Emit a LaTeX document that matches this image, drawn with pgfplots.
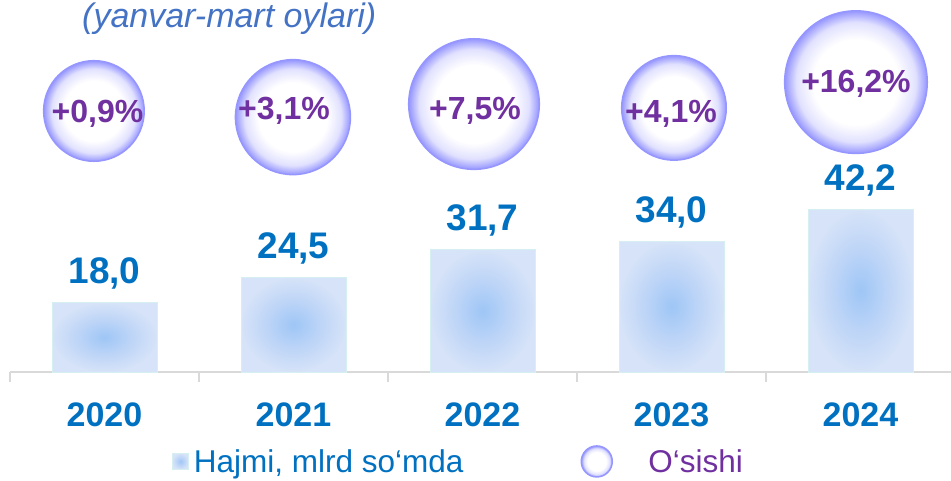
\documentclass[border=0pt]{standalone}
\usepackage{fontspec}
\setmainfont{Liberation Sans}
\usepackage{pgfplots}
\pgfplotsset{compat=1.18}
\definecolor{txtblue}{RGB}{0,112,192}
\definecolor{txtpurple}{RGB}{112,48,160}
\definecolor{ttlblue}{RGB}{68,114,196}
\definecolor{axgray}{RGB}{217,217,217}
\definecolor{barborder}{RGB}{214,240,242}
\definecolor{barin}{RGB}{158,198,246}
\definecolor{barmid}{RGB}{190,213,247}
\definecolor{barout}{RGB}{214,227,248}
\definecolor{bubedge}{RGB}{150,150,255}
\definecolor{bubmid}{RGB}{225,225,255}
\pgfdeclareradialshading{barshade}{\pgfpointorigin}{color(0bp)=(barin); color(13bp)=(barmid); color(25bp)=(barout); color(50bp)=(barout)}
\pgfdeclareradialshading{bubble}{\pgfpointorigin}{color(0bp)=(white); color(15bp)=(white); color(21bp)=(bubmid); color(25bp)=(bubedge); color(50bp)=(bubedge)}
\pgfdeclareplotmark{bubble}{%
  \pgfpathcircle{\pgfpointorigin}{\pgfplotmarksize}%
  \pgfshadepath{bubble}{0}%
  \pgfusepath{discard}%
  \pgfpathcircle{\pgfpointorigin}{\pgfplotmarksize}%
  \pgfusepathqstroke
}
\pgfplotsset{
  mybar/.style={ybar, bar width=105pt, bar shift=0pt, shade, shading=barshade, draw=barborder, line width=1pt},
  mybub/.style={only marks, mark=bubble, mark size=#1, mark options={draw=bubedge, line width=1.5pt}},
}
\begin{document}
\begin{tikzpicture}
\useasboundingbox (0,0) rectangle (951pt,480pt);
\begin{axis}[
  at={(10pt,108pt)}, anchor=south west,
  x=189pt, y=3.85pt, xmin=-0.5, xmax=4.5, ymin=0, ymax=96,
  clip=false,
  axis x line*=bottom, axis y line=none,
  x axis line style={draw=axgray, line width=1.5pt, -},
  xtick={0,1,2,3,4}, xticklabels={2020,2021,2022,2023,2024},
  major tick length=0pt,
  minor xtick={-0.5,0.5,1.5,2.5,3.5,4.5},
  minor tick length=10pt, tick align=outside,
  minor tick style={draw=axgray, line width=1.5pt},
  xticklabel style={font=\fontsize{34}{36}\selectfont\bfseries, text=txtblue, anchor=base, yshift=-54pt},
  /pgf/number format/assume math mode=true,
  legend style={draw=none, fill=none, legend columns=-1, at={(0.1714,-0.242)}, anchor=west,
    inner sep=0pt, outer sep=0pt, nodes={inner sep=0pt},
    font=\fontsize{31.5}{34}\selectfont,
    /tikz/every odd column/.append style={column sep=5pt},
    /tikz/every even column/.append style={column sep=117pt}},
]
% bars: Hajmi, mlrd so'mda
\addplot[mybar,
  legend image code/.code={\shade[shading=barshade, draw=barborder] (0pt,-8pt) rectangle (16pt,8pt);}]
  coordinates {(0,18.0)};
\addlegendentry[text=txtblue]{Hajmi, mlrd so‘mda}
\addplot[mybar, forget plot] coordinates {(1,24.5)};
\addplot[mybar, forget plot] coordinates {(2,31.7)};
\addplot[mybar, forget plot] coordinates {(3,34.0)};
\addplot[mybar, forget plot] coordinates {(4,42.2)};
\addplot[draw=none, forget plot, point meta=y,
  nodes near coords={\pgfmathprintnumber[fixed,fixed zerofill,precision=1,use comma]{\pgfplotspointmeta}},
  every node near coord/.append style={anchor=base, yshift=19pt, inner sep=0pt, text=txtblue, font=\fontsize{37}{40}\selectfont\bfseries}]
  coordinates {(0,18.0) (1,24.5) (2,31.7) (3,34.0) (4,42.2)};
% bubbles: O'sishi
\addplot[mybub=50.3pt,
  legend image code/.code={\shade[shading=bubble, draw=bubedge, line width=1.5pt] (16.5pt,0pt) circle (15.5pt); \path[draw=none] (33pt,0pt) -- (63pt,0pt);}]
  coordinates {(-0.056,67.8)};
\addlegendentry[text=txtpurple]{O‘sishi}
\addplot[mybub=57.5pt, forget plot] coordinates {(0.997,66.2)};
\addplot[mybub=65.3pt, forget plot] coordinates {(1.955,69.6)};
\addplot[mybub=52.3pt, forget plot] coordinates {(3.013,68.6)};
\addplot[mybub=71.3pt, forget plot] coordinates {(3.976,75.3)};
\addplot[draw=none, forget plot, point meta=explicit,
  nodes near coords={+\pgfmathprintnumber[fixed,fixed zerofill,precision=1,use comma]{\pgfplotspointmeta}\%},
  every node near coord/.append style={anchor=base, inner sep=0pt, text=txtpurple, font=\fontsize{32}{34}\selectfont\bfseries}]
  table[meta=g] {
x y g
-0.037 64.9 0.9
0.950 65.5 3.1
1.960 65.5 7.5
2.997 64.9 4.1
3.976 72.5 16.2
};
\end{axis}
\node[anchor=base west, inner sep=0pt, text=ttlblue, font=\fontsize{34}{36}\selectfont\itshape] at (82pt,452pt) {(yanvar-mart oylari)};
\end{tikzpicture}
\end{document}
